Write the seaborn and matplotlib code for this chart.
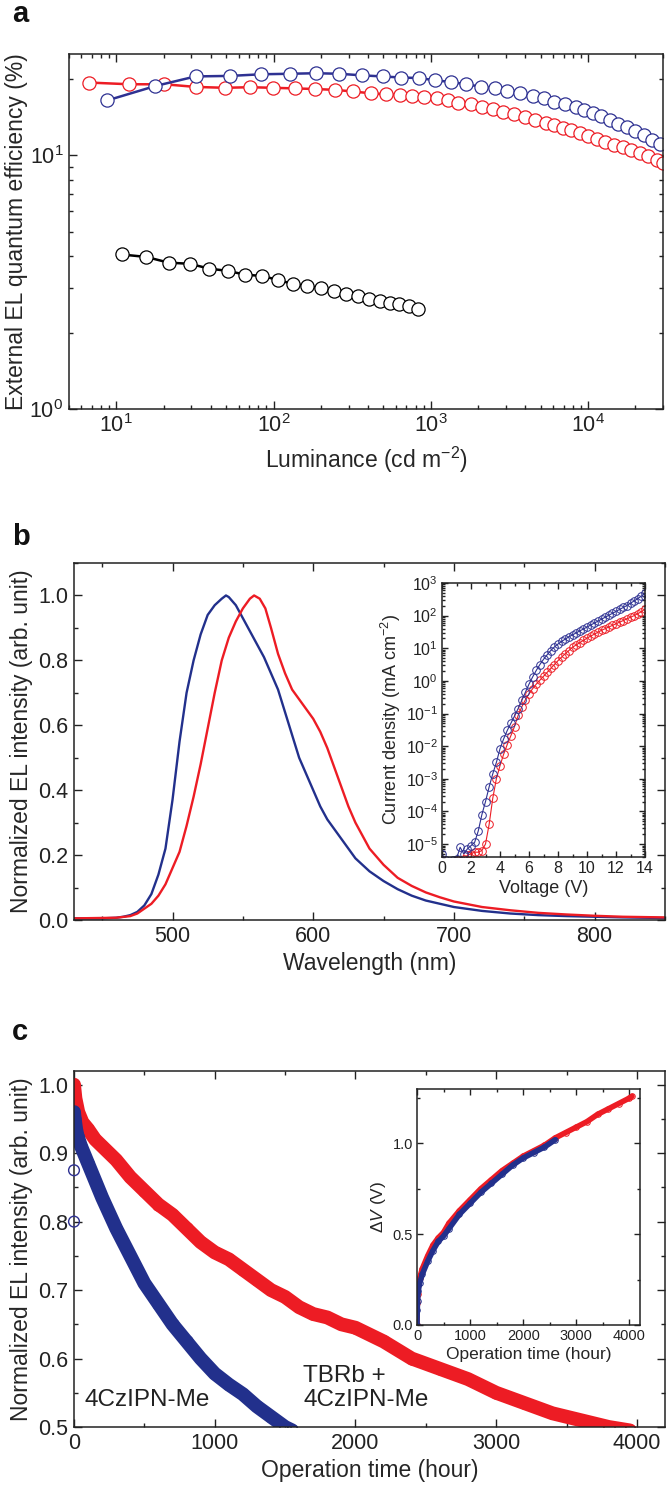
import matplotlib
matplotlib.use("Agg")
import matplotlib.pyplot as plt
from matplotlib.ticker import LogLocator, NullFormatter, MultipleLocator
import numpy as np
import seaborn as sns

# ---- panel a: EQE vs luminance ----
lum_red = [6.67, 12.1, 20.2, 31.9, 49.1, 70.5, 99.3, 136, 183, 246, 319, 418, 519, 634, 755,
           910, 1099, 1283, 1500, 1808, 2113, 2471, 2890, 3376, 3948, 4613, 5395, 6110, 6920,
           7840, 8890, 10070, 11400, 12900, 14630, 16580, 18780, 21280, 24100, 27300, 30000]
eqe_red = [19.3, 19.0, 19.0, 18.55, 18.4, 18.5, 18.4, 18.3, 18.2, 18.06, 17.8, 17.5, 17.35,
           17.25, 17.1, 16.9, 16.7, 16.5, 16.1, 15.85, 15.5, 15.2, 14.8, 14.5, 14.1, 13.8, 13.4,
           13.1, 12.8, 12.5, 12.25, 11.9, 11.6, 11.3, 11.0, 10.75, 10.45, 10.15, 9.9, 9.6, 9.3]
lum_blue = [8.72, 17.7, 31.9, 53.2, 83.4, 127.6, 185.5, 261, 364, 494, 646, 845, 1065, 1341,
            1679, 2075, 2551, 3076, 3710, 4470, 5224, 6110, 7140, 8340, 9460, 10720, 12140,
            13750, 15570, 17640, 19990, 22650, 25650, 28700]
eqe_blue = [16.4, 18.7, 20.4, 20.5, 20.8, 20.9, 21.0, 20.9, 20.6, 20.4, 20.2, 20.1, 19.7, 19.4,
            19.0, 18.6, 18.3, 17.9, 17.5, 17.1, 16.7, 16.2, 15.85, 15.4, 15.0, 14.6, 14.2, 13.7,
            13.3, 12.9, 12.4, 12.0, 11.5, 11.1]
lum_black = [10.8, 15.5, 21.5, 29.4, 39, 51, 66, 85, 107, 132, 164, 200, 243, 291, 346, 407,
             473, 553, 632, 723, 830]
eqe_black = [4.06, 3.97, 3.77, 3.73, 3.57, 3.5, 3.38, 3.34, 3.22, 3.11, 3.05, 2.99, 2.91, 2.84,
             2.78, 2.72, 2.66, 2.62, 2.58, 2.54, 2.48]

# ---- panel b: EL spectra ----
wl_blue = [430, 450, 460, 465, 470, 475, 480, 485, 490, 495, 500, 505, 510, 515, 520, 525, 530,
           535, 538, 540, 545, 550, 555, 560, 565, 570, 575, 580, 585, 590, 595, 600, 605, 610,
           615, 620, 625, 630, 640, 650, 660, 670, 680, 690, 700, 720, 740, 760, 780, 800, 820, 850]
el_blue = [0.005, 0.005, 0.007, 0.01, 0.015, 0.025, 0.045, 0.08, 0.14, 0.22, 0.37, 0.55, 0.70,
           0.80, 0.88, 0.94, 0.97, 0.99, 1.0, 0.995, 0.97, 0.93, 0.89, 0.85, 0.81, 0.76, 0.71,
           0.64, 0.57, 0.50, 0.45, 0.40, 0.35, 0.31, 0.28, 0.25, 0.22, 0.19, 0.15, 0.12, 0.095,
           0.075, 0.06, 0.05, 0.04, 0.028, 0.02, 0.015, 0.012, 0.01, 0.008, 0.006]
wl_red = [430, 460, 470, 475, 480, 485, 490, 495, 500, 505, 510, 515, 520, 525, 530, 535, 540,
          545, 550, 555, 558, 562, 566, 570, 575, 580, 585, 590, 595, 600, 605, 610, 615, 620,
          625, 630, 635, 640, 650, 660, 670, 680, 690, 700, 720, 740, 760, 780, 800, 820, 850]
el_red = [0.005, 0.007, 0.012, 0.02, 0.035, 0.05, 0.075, 0.11, 0.16, 0.21, 0.29, 0.38, 0.48,
          0.59, 0.70, 0.80, 0.87, 0.92, 0.96, 0.99, 1.0, 0.99, 0.96, 0.90, 0.82, 0.76, 0.71, 0.68,
          0.65, 0.62, 0.58, 0.53, 0.47, 0.41, 0.35, 0.30, 0.26, 0.22, 0.17, 0.13, 0.105, 0.085,
          0.07, 0.057, 0.04, 0.03, 0.022, 0.017, 0.013, 0.01, 0.008]

# inset b: J-V (log10 of current density, mA cm-2)
volt = [0, 0.25, 0.5, 0.75, 1.0, 1.25, 1.5, 1.75, 2.0, 2.25, 2.5, 2.75, 3.0, 3.25, 3.5, 3.75,
        4.0, 4.25, 4.5, 4.75, 5.0, 5.25, 5.5, 5.75, 6.0, 6.25, 6.5, 6.75, 7.0, 7.25, 7.5, 7.75,
        8.0, 8.25, 8.5, 8.75, 9.0, 9.25, 9.5, 9.75, 10.0, 10.25, 10.5, 10.75, 11.0, 11.25, 11.5,
        11.75, 12.0, 12.25, 12.5, 12.75, 13.0, 13.25, 13.5, 13.75, 14.0]
logj_blue = [-5.3, -5.5, -5.6, -5.5, -5.45, -5.1, -5.3, -5.15, -5.05, -4.95, -4.6, -4.1, -3.7,
             -3.25, -2.85, -2.5, -2.08, -1.78, -1.52, -1.3, -1.08, -0.85, -0.6, -0.35, -0.1,
             0.12, 0.32, 0.5, 0.66, 0.8, 0.93, 1.04, 1.13, 1.21, 1.28, 1.35, 1.41, 1.47, 1.53,
             1.59, 1.65, 1.71, 1.77, 1.83, 1.89, 1.95, 2.01, 2.07, 2.13, 2.19, 2.25, 2.31, 2.38,
             2.45, 2.52, 2.6, 2.68]
logj_red = [-5.5, -5.6, -5.7, -5.6, -5.5, -5.6, -5.45, -5.35, -5.3, -5.25, -5.25, -5.2, -5.0,
            -4.4, -3.6, -3.0, -2.6, -2.25, -1.95, -1.68, -1.4, -1.06, -0.8, -0.58, -0.4, -0.24,
            -0.1, 0.02, 0.14, 0.26, 0.38, 0.5, 0.62, 0.73, 0.83, 0.93, 1.03, 1.1, 1.17, 1.24,
            1.31, 1.37, 1.43, 1.49, 1.55, 1.6, 1.65, 1.7, 1.75, 1.8, 1.85, 1.9, 1.95, 2.0, 2.06,
            2.12, 2.2]

# ---- panel c: lifetime ----
t_red = [0, 10, 30, 60, 100, 150, 200, 300, 400, 500, 600, 700, 800, 900, 1000, 1100, 1200,
         1300, 1400, 1500, 1600, 1700, 1800, 1900, 2000, 2200, 2400, 2600, 2800, 3000, 3200,
         3400, 3600, 3800, 3950]
lt_red = [1.0, 0.98, 0.96, 0.945, 0.935, 0.92, 0.91, 0.89, 0.865, 0.845, 0.825, 0.81, 0.79,
          0.77, 0.755, 0.745, 0.73, 0.715, 0.70, 0.69, 0.675, 0.665, 0.66, 0.65, 0.645, 0.625,
          0.60, 0.585, 0.57, 0.55, 0.535, 0.52, 0.51, 0.50, 0.495]
t_blue = [0, 5, 15, 25, 50, 100, 150, 200, 300, 400, 500, 600, 700, 800, 900, 1000, 1100, 1200,
          1300, 1400, 1500, 1550]
lt_blue = [0.96, 0.95, 0.935, 0.925, 0.91, 0.885, 0.86, 0.835, 0.79, 0.75, 0.71, 0.68, 0.65,
           0.625, 0.60, 0.578, 0.562, 0.548, 0.53, 0.515, 0.50, 0.495]
t_blue_start = [0, 0]
lt_blue_start = [0.8, 0.875]

# inset c: voltage rise
t_dv_red = [0, 5, 10, 25, 50, 100, 200, 300, 400, 500, 600, 800, 1000, 1200, 1400, 1600, 1800,
            2000, 2200, 2400, 2600, 2800, 3000, 3200, 3400, 3600, 3800, 4000, 4050]
dv_red = [0.0, 0.12, 0.17, 0.22, 0.26, 0.31, 0.38, 0.44, 0.48, 0.51, 0.56, 0.63, 0.69, 0.75,
          0.80, 0.85, 0.89, 0.93, 0.96, 0.99, 1.03, 1.06, 1.09, 1.12, 1.16, 1.19, 1.22, 1.25, 1.26]
t_dv_blue = [0, 5, 10, 25, 50, 100, 200, 300, 400, 500, 600, 800, 1000, 1200, 1400, 1600, 1800,
             2000, 2200, 2400, 2600]
dv_blue = [0.0, 0.08, 0.13, 0.19, 0.23, 0.28, 0.35, 0.41, 0.46, 0.49, 0.53, 0.61, 0.67, 0.73,
           0.78, 0.83, 0.88, 0.92, 0.95, 0.98, 1.02]

RED = "#ED1C24"
BLUE = "#2E3192"
NAVY = "#22308C"

sns.set_theme(style="ticks")
plt.rcParams["font.family"] = ["Liberation Sans", "DejaVu Sans"]
plt.rcParams["mathtext.fontset"] = "custom"
plt.rcParams["mathtext.rm"] = "Liberation Sans"
plt.rcParams["mathtext.it"] = "Liberation Sans:italic"
plt.rcParams["axes.linewidth"] = 1.1
plt.rcParams["axes.edgecolor"] = "#222222"
plt.rcParams["text.color"] = "#222222"
plt.rcParams["xtick.color"] = "#222222"
plt.rcParams["ytick.color"] = "#222222"

W, H = 667, 1489


def box(left, top, right, bottom):
    return [left / W, (H - bottom) / H, (right - left) / W, (bottom - top) / H]


def style_ticks(ax, size, major=6, minor=3):
    ax.tick_params(which="both", direction="in", top=True, right=True, labelsize=size,
                   width=1.0, pad=4)
    ax.tick_params(which="major", length=major)
    ax.tick_params(which="minor", length=minor)


def curve(ax, x, y, color, **kw):
    sns.lineplot(x=x, y=y, ax=ax, color=color, estimator=None, sort=False, **kw)


fig = plt.figure(figsize=(W / 100, H / 100), dpi=100)

# ---------------- a ----------------
ax_a = fig.add_axes(box(69, 54, 663, 409))
ax_a.set_xscale("log")
ax_a.set_yscale("log")
circ = dict(marker="o", markersize=9.5, markerfacecolor="white", markeredgewidth=0.9, lw=1.8)
curve(ax_a, lum_red, eqe_red, RED, markeredgecolor=RED, **circ)
curve(ax_a, lum_blue, eqe_blue, BLUE, markeredgecolor=BLUE, **circ)
curve(ax_a, lum_black, eqe_black, "black", markeredgecolor="black", **circ)
ax_a.set_xlim(5, 3e4)
ax_a.set_ylim(1, 25)
ax_a.xaxis.set_major_locator(LogLocator(base=10, numticks=10))
ax_a.xaxis.set_minor_locator(LogLocator(base=10, subs=np.arange(2, 10), numticks=10))
ax_a.yaxis.set_major_locator(LogLocator(base=10, numticks=10))
ax_a.yaxis.set_minor_locator(LogLocator(base=10, subs=np.arange(2, 10), numticks=10))
ax_a.xaxis.set_minor_formatter(NullFormatter())
ax_a.yaxis.set_minor_formatter(NullFormatter())
style_ticks(ax_a, 15.5)
ax_a.set_xlabel("Luminance (cd m$^{-2}$)", fontsize=16.5, labelpad=5)
ax_a.set_ylabel("External EL quantum efficiency (%)", fontsize=16.5, labelpad=1)

# ---------------- b ----------------
ax_b = fig.add_axes(box(74, 563, 665, 920))
curve(ax_b, wl_blue, el_blue, NAVY, lw=1.7)
curve(ax_b, wl_red, el_red, RED, lw=1.7)
ax_b.set_xlim(430, 850)
ax_b.set_ylim(0, 1.1)
ax_b.xaxis.set_major_locator(MultipleLocator(100))
ax_b.xaxis.set_minor_locator(MultipleLocator(50))
ax_b.yaxis.set_major_locator(MultipleLocator(0.2))
ax_b.yaxis.set_minor_locator(MultipleLocator(0.1))
ax_b.yaxis.set_major_formatter(lambda v, p: f"{v:.1f}")
style_ticks(ax_b, 15.5)
ax_b.set_xlabel("Wavelength (nm)", fontsize=16.5, labelpad=4)
ax_b.set_ylabel("Normalized EL intensity (arb. unit)", fontsize=16.5, labelpad=4)

ax_bi = fig.add_axes(box(442, 583, 645, 857))
ax_bi.set_yscale("log")
ring = dict(marker="o", markersize=5.5, markerfacecolor="none", markeredgewidth=0.7, lw=0.8)
curve(ax_bi, volt, np.power(10.0, logj_red), RED, markeredgecolor=RED, **ring)
curve(ax_bi, volt, np.power(10.0, logj_blue), BLUE, markeredgecolor=BLUE, **ring)
ax_bi.set_xlim(0, 14)
ax_bi.set_ylim(4e-6, 1e3)
ax_bi.xaxis.set_major_locator(MultipleLocator(2))
ax_bi.xaxis.set_minor_locator(MultipleLocator(1))
ax_bi.yaxis.set_major_locator(LogLocator(base=10, numticks=20))
ax_bi.yaxis.set_minor_locator(LogLocator(base=10, subs=np.arange(2, 10), numticks=20))
ax_bi.yaxis.set_minor_formatter(NullFormatter())
style_ticks(ax_bi, 11.5, major=4, minor=2)
ax_bi.tick_params(pad=3)
ax_bi.set_xlabel("Voltage (V)", fontsize=13, labelpad=3)
ax_bi.set_ylabel("Current density (mA cm$^{-2}$)", fontsize=13, labelpad=2)

# ---------------- c ----------------
ax_c = fig.add_axes(box(74, 1071, 665, 1427))
band = dict(marker="o", markersize=8, markerfacecolor="none", markeredgewidth=1.0, lw=10)
curve(ax_c, t_red, lt_red, RED, markeredgecolor=RED, **band)
curve(ax_c, t_blue, lt_blue, NAVY, markeredgecolor=NAVY, **band)
sns.scatterplot(x=t_blue_start, y=lt_blue_start, ax=ax_c, s=60, facecolor="none",
                edgecolor=BLUE, linewidth=1.0, clip_on=False, zorder=3)
ax_c.set_xlim(0, 4200)
ax_c.set_ylim(0.5, 1.02)
ax_c.xaxis.set_major_locator(MultipleLocator(1000))
ax_c.xaxis.set_minor_locator(MultipleLocator(500))
ax_c.yaxis.set_major_locator(MultipleLocator(0.1))
ax_c.yaxis.set_minor_locator(MultipleLocator(0.05))
ax_c.yaxis.set_major_formatter(lambda v, p: f"{v:.1f}")
style_ticks(ax_c, 15.5)
ax_c.set_xlabel("Operation time (hour)", fontsize=16.5, labelpad=4)
ax_c.set_ylabel("Normalized EL intensity (arb. unit)", fontsize=16.5, labelpad=4)
ax_c.text(75, 0.539, "4CzIPN-Me", fontsize=17.5, va="center", ha="left")
ax_c.text(1630, 0.557, "TBRb +\n4CzIPN-Me", fontsize=17.5, va="center", ha="left",
          linespacing=1.15)

ax_ci = fig.add_axes(box(417, 1089, 640, 1325))
ax_ci.set_facecolor("none")
thin = dict(marker="o", markersize=4, markerfacecolor="none", markeredgewidth=0.7, lw=4)
curve(ax_ci, t_dv_red, dv_red, RED, markeredgecolor=RED, **thin)
curve(ax_ci, t_dv_blue, dv_blue, NAVY, markeredgecolor=NAVY, **thin)
ax_ci.set_xlim(0, 4200)
ax_ci.set_ylim(0, 1.3)
ax_ci.xaxis.set_major_locator(MultipleLocator(1000))
ax_ci.xaxis.set_minor_locator(MultipleLocator(500))
ax_ci.yaxis.set_major_locator(MultipleLocator(0.5))
ax_ci.yaxis.set_minor_locator(MultipleLocator(0.25))
ax_ci.yaxis.set_major_formatter(lambda v, p: f"{v:.1f}")
style_ticks(ax_ci, 10.5, major=4, minor=2)
ax_ci.tick_params(pad=3)
ax_ci.set_xlabel("Operation time (hour)", fontsize=12.5, labelpad=3)
ax_ci.set_ylabel("Δ$\\it{V}$ (V)", fontsize=12.5, labelpad=3)

# panel letters
for letter, y in (("a", 22), ("b", 545), ("c", 1040)):
    fig.text(12 / W, 1 - y / H, letter, fontsize=21, fontweight="bold", va="baseline",
             ha="left", color="#111111")

fig.savefig("out.png", dpi=100)
